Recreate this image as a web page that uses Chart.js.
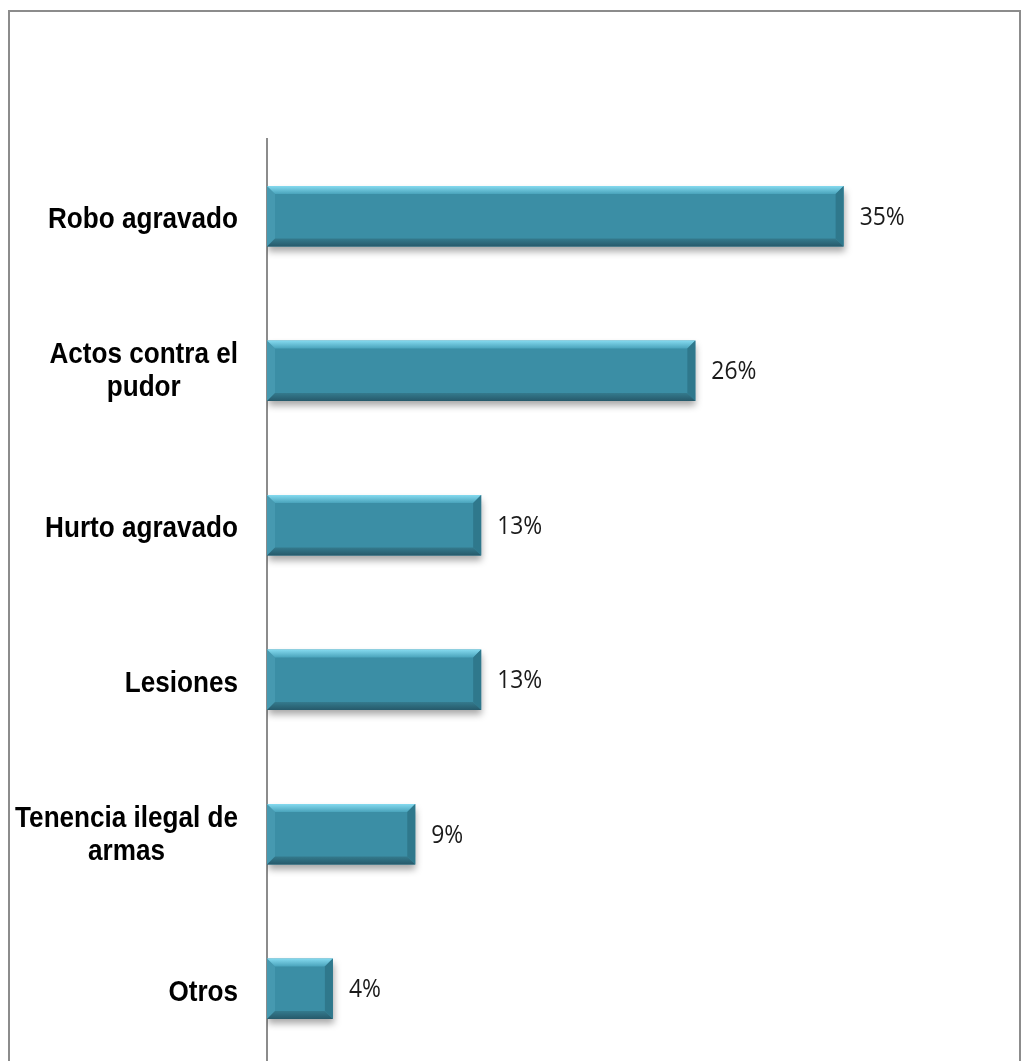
<!DOCTYPE html>
<html>
<head>
<meta charset="utf-8">
<script src="https://cdn.jsdelivr.net/npm/chart.js@4"></script>
<style>
    html, body { margin: 0; padding: 0; background: #fff; overflow: hidden; }
    #wrap { width: 1021px; height: 1080px; position: relative; }
</style>
</head>
<body>
<div id="wrap"><canvas id="chart"></canvas></div>
<script>
// data
const categories = ['Robo agravado', ['Actos contra el', 'pudor'], 'Hurto agravado', 'Lesiones', ['Tenencia ilegal de', 'armas'], 'Otros'];
const values = [35, 26, 13, 13, 9, 4];
const valueLabels = ['35%', '26%', '13%', '13%', '9%', '4%'];

const BAR = '#3b8ea5';

// outer frame
const framePlugin = {
    id: 'frame',
    beforeDraw(chart) {
        const ctx = chart.ctx;
        ctx.save();
        ctx.strokeStyle = '#8c8c8c';
        ctx.lineWidth = 2;
        ctx.beginPath();
        ctx.moveTo(9, 1100);
        ctx.lineTo(9, 11);
        ctx.lineTo(1020, 11);
        ctx.lineTo(1020, 1100);
        ctx.stroke();
        ctx.restore();
    }
};

// shadow under bars
const shadowPlugin = {
    id: 'barShadow',
    beforeDatasetDraw(chart) {
        const ctx = chart.ctx;
        ctx.save();
        ctx.shadowColor = 'rgba(0,0,0,0.35)';
        ctx.shadowBlur = 7;
        ctx.shadowOffsetY = 5;
        ctx.shadowOffsetX = 1;
    },
    afterDatasetDraw(chart) {
        chart.ctx.restore();
    }
};

// bevel edges on each bar + value labels
const bevelPlugin = {
    id: 'bevel',
    afterDatasetsDraw(chart) {
        const ctx = chart.ctx;
        const meta = chart.getDatasetMeta(0);
        meta.data.forEach((bar, i) => {
            const L = bar.base, R = bar.x;
            const T = bar.y - bar.height / 2, B = bar.y + bar.height / 2;
            const b = 8;
            ctx.save();
            // left
            ctx.fillStyle = '#4699b0';
            poly(ctx, [[L, T], [L + b, T + b], [L + b, B - b], [L, B]]);
            // top
            const g = ctx.createLinearGradient(0, T, 0, T + b);
            g.addColorStop(0, '#86dbf0');
            g.addColorStop(1, '#4aa4bc');
            ctx.fillStyle = g;
            poly(ctx, [[L, T], [R, T], [R - b, T + b], [L + b, T + b]]);
            // right
            ctx.fillStyle = '#2f788c';
            poly(ctx, [[R, T], [R, B], [R - b, B - b], [R - b, T + b]]);
            // bottom
            const g2 = ctx.createLinearGradient(0, B - b, 0, B);
            g2.addColorStop(0, '#347a8d');
            g2.addColorStop(1, '#26596a');
            ctx.fillStyle = g2;
            poly(ctx, [[L, B], [R, B], [R - b, B - b], [L + b, B - b]]);

            // value label
            ctx.fillStyle = '#1a1a1a';
            ctx.font = '26px "Open Sans"';
            ctx.textAlign = 'left';
            ctx.textBaseline = 'middle';
            ctx.translate(R + 16, bar.y + 1);
            ctx.scale(0.88, 1);
            ctx.fillText(valueLabels[i], 0, 0);
            ctx.restore();
        });

        // category labels, placed from the y scale
        const y = chart.scales.y;
        ctx.save();
        ctx.font = 'bold 29px "Liberation Sans"';
        ctx.fillStyle = '#000';
        ctx.textBaseline = 'alphabetic';
        const sx = 0.9, right = 238, lh = 33.4;
        categories.forEach((c, i) => {
            const lines = Array.isArray(c) ? c : [c];
            const cy = y.getPixelForTick(i);
            const maxW = Math.max(...lines.map(l => ctx.measureText(l).width)) * sx;
            const cx = right - maxW / 2;
            lines.forEach((line, j) => {
                const by = cy + 12 + (j - (lines.length - 1) / 2) * lh - (lines.length > 1 ? 3 : 0);
                ctx.save();
                ctx.translate(cx, by);
                ctx.scale(sx, 1);
                ctx.textAlign = 'center';
                ctx.fillText(line, 0, 0);
                ctx.restore();
            });
        });
        ctx.restore();
    }
};

function poly(ctx, pts) {
    ctx.beginPath();
    ctx.moveTo(pts[0][0], pts[0][1]);
    for (let k = 1; k < pts.length; k++) ctx.lineTo(pts[k][0], pts[k][1]);
    ctx.closePath();
    ctx.fill();
}

new Chart(document.getElementById('chart'), {
    type: 'bar',
    data: {
        labels: categories,
        datasets: [{
            data: values,
            backgroundColor: BAR,
            borderWidth: 0,
            categoryPercentage: 1,
            barPercentage: 0.393
        }]
    },
    options: {
        indexAxis: 'y',
        responsive: true,
        maintainAspectRatio: false,
        animation: false,
        layout: { padding: { top: 139, bottom: 14, left: 0, right: 95 } },
        plugins: { legend: { display: false }, tooltip: { enabled: false } },
        scales: {
            x: {
                display: false,
                min: 0,
                max: 40
            },
            y: {
                afterFit(scale) { scale.width = 267; },
                grid: { display: false, drawTicks: false },
                border: { display: true, color: '#8c8c8c', width: 2 },
                ticks: { display: false }
            }
        }
    },
    plugins: [framePlugin, shadowPlugin, bevelPlugin]
});
</script>
</body>
</html>
